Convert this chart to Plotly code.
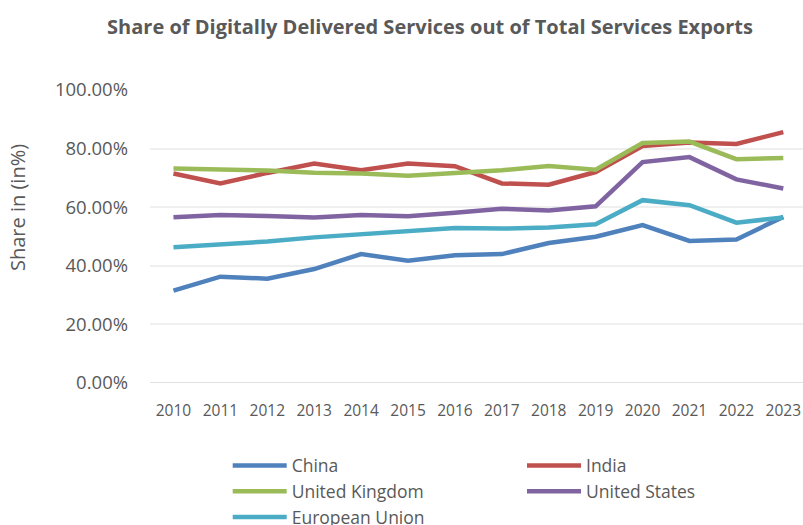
import plotly.graph_objects as go

years = [str(y) for y in range(2010, 2024)]

china = [31.5, 36.3, 35.6, 38.9, 44.0, 41.7, 43.6, 44.0, 47.8, 49.9, 53.9, 48.5, 49.0, 56.7]
india = [71.5, 68.1, 71.7, 74.9, 72.6, 74.9, 74.0, 68.1, 67.7, 72.0, 80.9, 82.1, 81.6, 85.6]
united_kingdom = [73.2, 72.9, 72.5, 71.8, 71.5, 70.7, 71.8, 72.6, 74.1, 72.8, 81.9, 82.4, 76.4, 76.8]
united_states = [56.6, 57.3, 57.0, 56.5, 57.3, 56.9, 58.1, 59.5, 58.9, 60.3, 75.4, 77.1, 69.5, 66.4]
european_union = [46.3, 47.3, 48.3, 49.7, 50.8, 51.8, 52.9, 52.7, 53.1, 54.2, 62.4, 60.7, 54.7, 56.5]

y_ticks = [0, 20, 40, 60, 80, 100]
y_tick_labels = ["0.00%", "20.00%", "40.00%", "60.00%", "80.00%", "100.00%"]

series = [
    ("China", china, "#4F81BD", "legend"),
    ("India", india, "#C0504D", "legend2"),
    ("United Kingdom", united_kingdom, "#9BBB59", "legend"),
    ("United States", united_states, "#8064A2", "legend2"),
    ("European Union", european_union, "#4BACC6", "legend"),
]

FONT = "Open Sans"
GREY = "#595959"

fig = go.Figure()
for name, vals, color, leg in series:
    fig.add_trace(go.Scatter(
        x=list(range(len(years))), y=vals, name=name, mode="lines",
        line=dict(color=color, width=4.5),
        legend=leg,
    ))

W, H = 803, 525
L, R, T, B = 150, 0, 90, 142
pw = W - L - R
ph = H - T - B

legend_style = dict(
    orientation="v", yanchor="top", xanchor="left",
    xref="container", yref="container",
    font=dict(family=FONT, size=17.5, color=GREY),
    bgcolor="rgba(0,0,0,0)", tracegroupgap=0, traceorder="normal",
    itemwidth=54,
)

fig.update_layout(
    width=W, height=H,
    margin=dict(l=L, r=R, t=T, b=B, autoexpand=False),
    paper_bgcolor="white", plot_bgcolor="white",
    title=dict(
        text="<b>Share of Digitally Delivered Services out of Total Services Exports</b>",
        font=dict(family=FONT, size=20, color=GREY),
        x=430 / W, xanchor="center", y=1 - 27 / H, yanchor="middle",
    ),
    xaxis=dict(
        tickmode="array", tickvals=list(range(len(years))), ticktext=years,
        range=[-0.5, 13.42], showgrid=False, zeroline=False,
        tickfont=dict(family=FONT, size=15.5, color=GREY),
        ticks="", ticklabelstandoff=16,
    ),
    yaxis=dict(
        tickmode="array", tickvals=y_ticks, ticktext=y_tick_labels,
        range=[0, 100], showgrid=True, gridcolor="#EFEFEF", gridwidth=1.5,
        zeroline=False, showline=False,
        tickfont=dict(family=FONT, size=18.5, color=GREY),
        ticklabelstandoff=21,
    ),
    legend=dict(x=227.7 / W, y=1 - 447.5 / H, **legend_style),
    legend2=dict(x=522 / W, y=1 - 447.5 / H, **legend_style),
    showlegend=True,
)

# baseline at 0%
fig.add_shape(type="line", xref="paper", yref="y", x0=0, x1=1, y0=0, y1=0,
              line=dict(color="#D9D9D9", width=1.5), layer="below")

fig.add_annotation(
    text="Share in (in%)", textangle=-90, showarrow=False,
    xref="paper", yref="paper",
    x=(17 - L) / pw, y=(T + ph - 208) / ph, xanchor="center", yanchor="middle",
    font=dict(family=FONT, size=20, color=GREY),
)

fig.write_html("out.html")
